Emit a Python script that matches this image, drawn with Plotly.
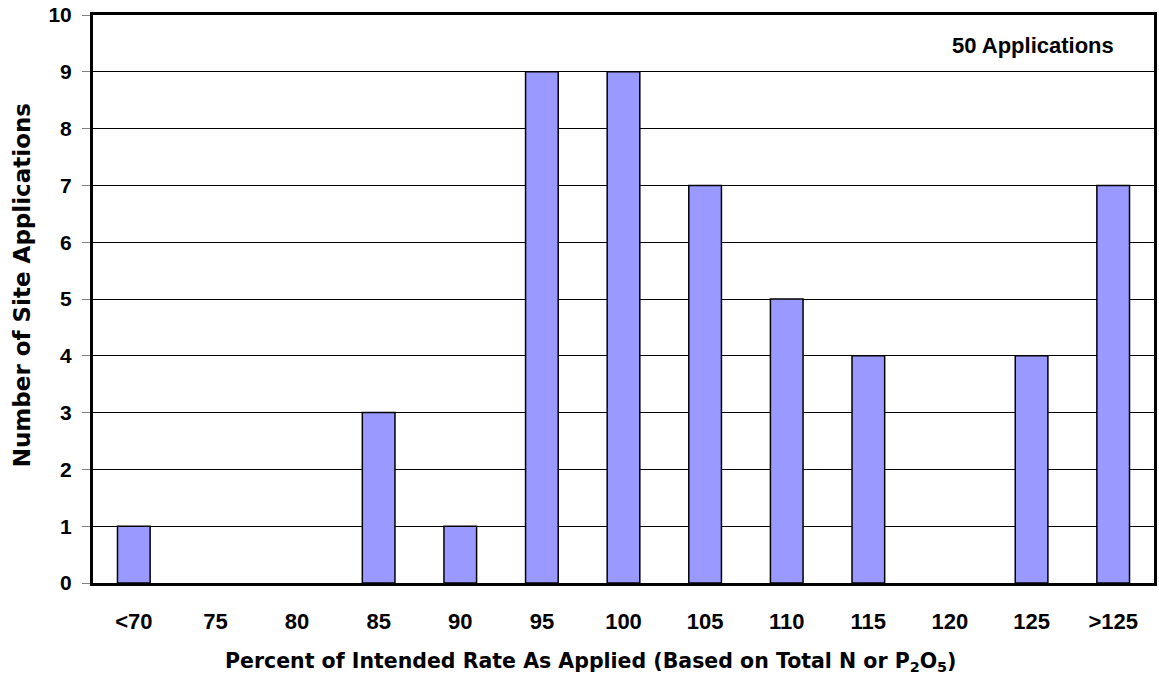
import plotly.graph_objects as go

categories = ["<70", "75", "80", "85", "90", "95", "100", "105", "110", "115", "120", "125", ">125"]
counts = [1, 0, 0, 3, 1, 9, 9, 7, 5, 4, 0, 4, 7]
y_ticks = list(range(0, 11))

lib = "Liberation Sans, Arial, sans-serif"
dv = "DejaVu Sans, Verdana, sans-serif"

fig = go.Figure()
fig.add_trace(go.Bar(
    x=categories, y=[c if c else None for c in counts],
    marker=dict(color="#9999FF", line=dict(color="black", width=1.5)),
    width=0.4,
))

fig.update_layout(
    width=1159, height=679,
    margin=dict(l=93, r=2, t=15, b=96),
    plot_bgcolor="white", paper_bgcolor="white",
    showlegend=False,
    font=dict(family=lib, size=21, color="black"),
    xaxis=dict(
        type="category", categoryorder="array", categoryarray=categories,
        tickvals=categories,
        ticktext=[c.replace("<", "&lt;").replace(">", "&gt;") for c in categories],
        tickfont=dict(size=22, family=lib, weight="bold"),
        ticklabelstandoff=17,
        showline=True, linecolor="black", linewidth=3, mirror=True,
        showgrid=False, ticks="",
    ),
    yaxis=dict(
        range=[0, 10], tickvals=y_ticks,
        tickfont=dict(size=21, family=lib, weight="bold"),
        showline=True, linecolor="black", linewidth=3, mirror=True,
        showgrid=True, gridcolor="black", gridwidth=1,
        ticks="outside", ticklen=8, tickcolor="gray", tickwidth=1,
        ticklabelstandoff=6,
        zeroline=False,
    ),
)

# Axis titles placed as annotations to match the reference's offsets
fig.add_annotation(
    text="Percent of Intended Rate As Applied (Based on Total N or P<sub>2</sub>O<sub>5</sub>)",
    xref="paper", yref="paper", x=0.469, y=-0.139, xanchor="center", yanchor="middle",
    showarrow=False, font=dict(size=20.5, family=dv, color="black", weight="bold"),
)
fig.add_annotation(
    text="Number of Site Applications", textangle=-90,
    xref="paper", yref="paper", x=-0.0667, y=0.5246, xanchor="center", yanchor="middle",
    showarrow=False, font=dict(size=23, family=dv, color="black", weight="bold"),
)
fig.add_annotation(
    text="50 Applications", xref="paper", yref="paper",
    x=0.9643, y=0.947, xanchor="right", yanchor="middle", showarrow=False,
    font=dict(size=22, family=lib, color="black", weight="bold"),
)

fig.write_html("out.html")
